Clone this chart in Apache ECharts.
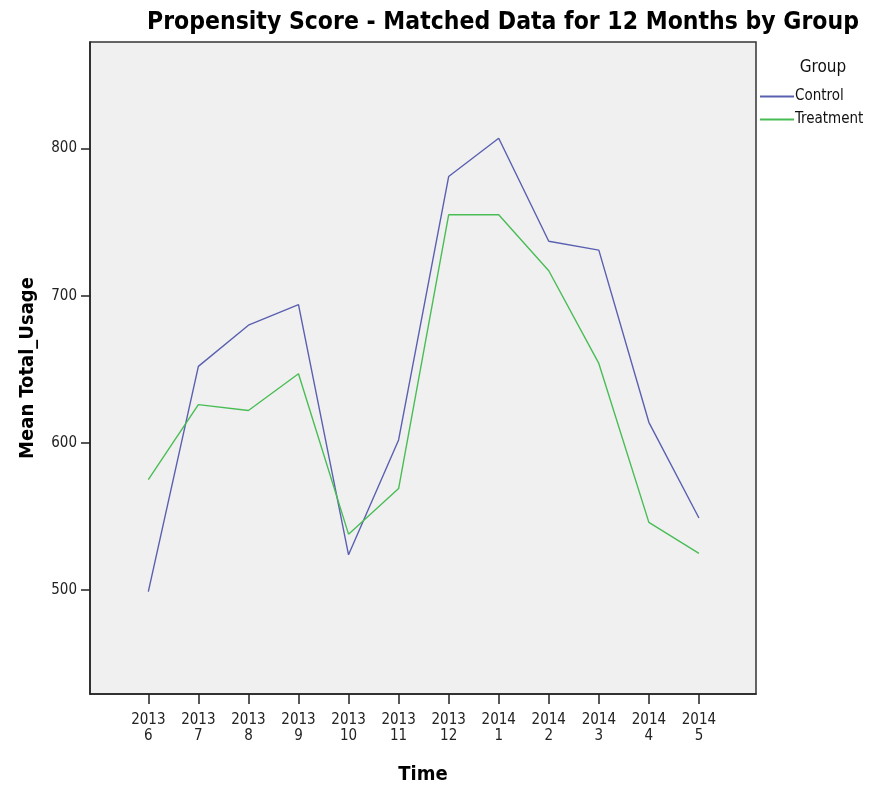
<!DOCTYPE html>
<html>
<head>
<meta charset="utf-8">
<script src="https://cdn.jsdelivr.net/npm/echarts@6/dist/echarts.min.js"></script>
<style>
html,body{margin:0;padding:0;background:#fff;}
#chart{width:877px;height:786px;}
</style>
</head>
<body>
<div id="chart"></div>
<script>
var years = ['2013','2013','2013','2013','2013','2013','2013','2014','2014','2014','2014','2014'];
var months = ['6','7','8','9','10','11','12','1','2','3','4','5'];
var controlValues = [499, 652, 680, 694, 524, 602, 781, 807, 737, 731, 614, 549];
var treatmentValues = [575, 626, 622, 647, 538, 569, 755, 755, 717, 654, 546, 525];
var yTicks = [500, 600, 700, 800];
var seriesNames = ['Control', 'Treatment'];

var FONT = '"Liberation Sans Narrow","DejaVu Sans Condensed","Liberation Sans",Arial,sans-serif';
var xIdx = years.map(function(_, i){ return i; });
function pairs(vals){ return vals.map(function(v, i){ return [xIdx[i], v]; }); }

var chart = echarts.init(document.getElementById('chart'), null, {renderer:'canvas'});
chart.setOption({
  animation: false,
  backgroundColor: '#ffffff',
  title: [{
    text: 'Propensity Score - Matched Data for 12 Months by Group',
    left: 498, top: 5, textAlign: 'center',
    textStyle: {fontFamily: FONT, fontWeight: 'bold', fontSize: 24.5, color: '#000'}
  }, {
    text: 'Group',
    left: 818, top: 54, textAlign: 'center',
    textStyle: {fontFamily: FONT, fontWeight: 'normal', fontSize: 17, color: '#111'}
  }],
  legend: {
    orient: 'vertical',
    left: 760, top: 89,
    itemWidth: 34, itemHeight: 2, itemGap: 8,
    icon: 'rect',
    padding: 0,
    data: seriesNames,
    textStyle: {fontFamily: FONT, fontSize: 15, color: '#111', padding: [0,0,0,-4]}
  },
  grid: {
    left: 90, top: 42, width: 666, height: 652,
    outerBoundsMode: 'none', containLabel: false,
    show: true, backgroundColor: '#f0f0f0', borderColor: '#333', borderWidth: 1.5
  },
  xAxis: {
    type: 'value', min: -1.165, max: 12.14,
    name: 'Time', nameLocation: 'middle', nameGap: 71,
    nameTextStyle: {fontFamily: FONT, fontWeight: 'bold', fontSize: 20, color: '#000'},
    axisLine: {show: true, onZero: false, lineStyle: {color: '#222', width: 1.5}},
    axisTick: {show: true, customValues: xIdx, length: 10, lineStyle: {color: '#222', width: 1.5}},
    axisLabel: {
      customValues: xIdx, margin: 18, lineHeight: 16,
      fontFamily: FONT, fontSize: 15, color: '#222',
      formatter: function(v){ var i = Math.round(v); return years[i] + '\n' + months[i]; }
    },
    splitLine: {show: false}
  },
  yAxis: {
    type: 'value', min: 429.4, max: 872.4,
    name: 'Mean Total_Usage', nameLocation: 'middle', nameGap: 52, nameRotate: 90,
    nameTextStyle: {fontFamily: FONT, fontWeight: 'bold', fontSize: 20, color: '#000'},
    axisLine: {show: true, onZero: false, lineStyle: {color: '#222', width: 1.5}},
    axisTick: {show: true, customValues: yTicks, length: 9, lineStyle: {color: '#222', width: 1.5}},
    axisLabel: {customValues: yTicks, margin: 13, fontFamily: FONT, fontSize: 15, color: '#222'},
    splitLine: {show: false}
  },
  series: [{
    name: seriesNames[0], type: 'line', data: pairs(controlValues),
    symbol: 'none', color: '#5a60b0', lineStyle: {width: 1.4, color: '#5a60b0'}
  }, {
    name: seriesNames[1], type: 'line', data: pairs(treatmentValues),
    symbol: 'none', color: '#49bd55', lineStyle: {width: 1.4, color: '#49bd55'}
  }]
});
</script>
</body>
</html>
